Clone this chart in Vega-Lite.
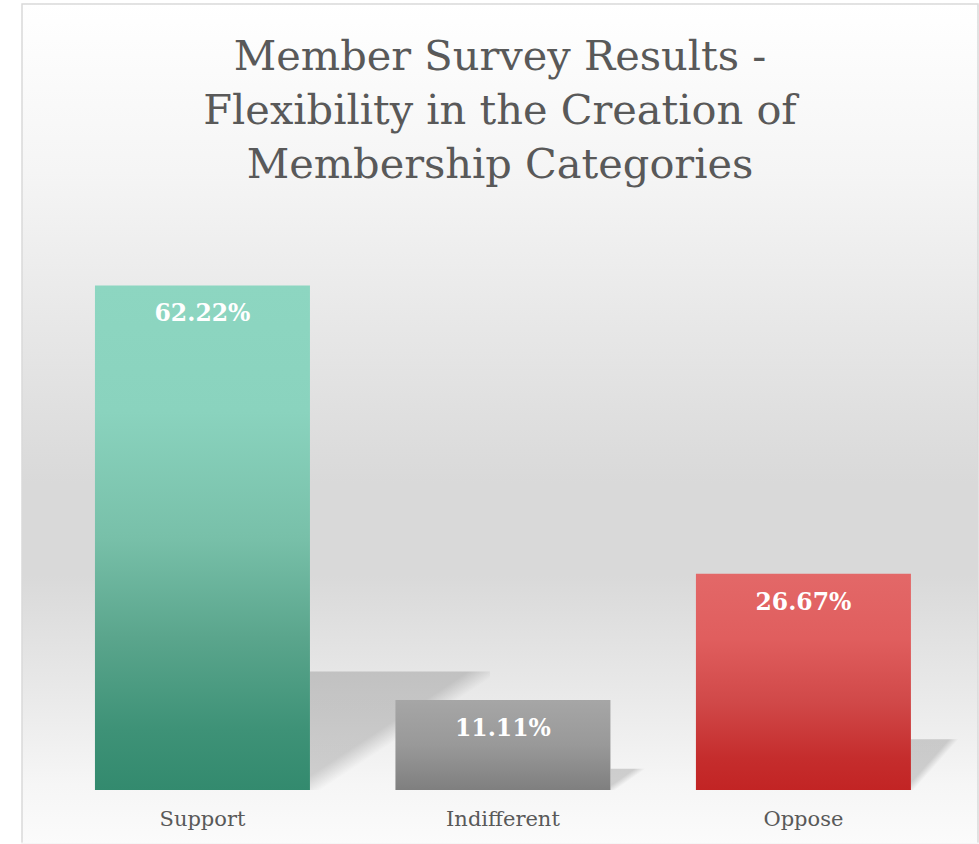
{
  "$schema": "https://vega.github.io/schema/vega-lite/v6.json",
  "width": 956,
  "height": 840,
  "autosize": {"type": "none"},
  "padding": {"left": 22, "top": 4, "right": 1, "bottom": 0},
  "background": "#ffffff",
  "title": {
    "text": ["Member Survey Results -", "Flexibility in the Creation of", "Membership Categories"],
    "anchor": "middle",
    "frame": "group",
    "orient": "top",
    "baseline": "top",
    "offset": -182,
    "font": "DejaVu Serif",
    "fontSize": 41.5,
    "fontWeight": "normal",
    "color": "#595959",
    "lineHeight": 54
  },
  "config": {
    "view": {
      "fill": {"gradient": "linear", "x1": 0, "y1": 0, "x2": 0, "y2": 1, "stops": [
        {"offset": 0, "color": "#ffffff"},
        {"offset": 0.2, "color": "#f5f5f5"},
        {"offset": 0.4, "color": "#e6e6e6"},
        {"offset": 0.57, "color": "#d9d9d9"},
        {"offset": 0.68, "color": "#d9d9d9"},
        {"offset": 0.82, "color": "#e9e9e9"},
        {"offset": 0.93, "color": "#f6f6f6"},
        {"offset": 1, "color": "#fbfbfb"}
      ]},
      "stroke": {"gradient": "linear", "x1": 0, "y1": 0, "x2": 0, "y2": 1, "stops": [
        {"offset": 0, "color": "#d9d9d9"},
        {"offset": 0.997, "color": "#d9d9d9"},
        {"offset": 1, "color": "#fbfbfb"}
      ]},
      "strokeWidth": 1.5
    }
  },
  "data": {"values": [
    {"category": "Support", "share": 0.6222},
    {"category": "Indifferent", "share": 0.1111},
    {"category": "Oppose", "share": 0.2667}
  ]},
  "encoding": {
    "x": {
      "field": "category",
      "type": "nominal",
      "sort": ["Support", "Indifferent", "Oppose"],
      "scale": {"paddingInner": 0.2845, "paddingOuter": 0.233, "align": 0.521, "round": false},
      "axis": {
        "title": null,
        "orient": "bottom",
        "offset": -54,
        "domain": false,
        "ticks": false,
        "grid": false,
        "labelAngle": 0,
        "labelFont": "DejaVu Serif",
        "labelFontSize": 21,
        "labelColor": "#595959",
        "labelPadding": 18
      }
    }
  },
  "layer": [
    {
      "mark": {"type": "bar", "width": 180, "xOffset": 197.5},
      "encoding": {
        "y": {"field": "share", "type": "quantitative", "scale": {"domain": [-0.2833, 4.124], "nice": false, "zero": false}, "axis": null},
        "y2": {"datum": 0},
        "fill": {
          "condition": [
            {"test": "datum.category === 'Support'", "value": {"gradient": "linear", "x1": 0, "y1": 0, "x2": 1, "y2": 1, "stops": [
              {"offset": 0, "color": "rgba(0,0,0,0.16)"},
              {"offset": 0.44, "color": "rgba(0,0,0,0.16)"},
              {"offset": 0.53, "color": "rgba(0,0,0,0)"},
              {"offset": 1, "color": "rgba(0,0,0,0)"}
            ]}},
            {"test": "datum.category === 'Indifferent'", "value": {"gradient": "linear", "x1": 0, "y1": 0, "x2": 1, "y2": 0.167, "stops": [
              {"offset": 0, "color": "rgba(0,0,0,0.16)"},
              {"offset": 0.13, "color": "rgba(0,0,0,0.16)"},
              {"offset": 0.19, "color": "rgba(0,0,0,0)"},
              {"offset": 1, "color": "rgba(0,0,0,0)"}
            ]}}
          ],
          "value": {"gradient": "linear", "x1": 0, "y1": 0, "x2": 1, "y2": 0.25, "stops": [
            {"offset": 0, "color": "rgba(0,0,0,0.16)"},
            {"offset": 0.2, "color": "rgba(0,0,0,0.16)"},
            {"offset": 0.25, "color": "rgba(0,0,0,0)"},
            {"offset": 1, "color": "rgba(0,0,0,0)"}
          ]}
        }
      }
    },
    {
      "mark": {"type": "bar"},
      "encoding": {
        "y": {"field": "share", "type": "quantitative", "scale": {"domain": [-0.06658, 0.96917], "nice": false, "zero": false}, "axis": null},
        "y2": {"datum": 0},
        "fill": {
          "condition": [
            {"test": "datum.category === 'Support'", "value": {"gradient": "linear", "x1": 0, "y1": 0, "x2": 0, "y2": 1, "stops": [
              {"offset": 0, "color": "#8dd6c1"},
              {"offset": 0.25, "color": "#8ad3be"},
              {"offset": 0.5, "color": "#78c0a9"},
              {"offset": 0.7, "color": "#5aa58c"},
              {"offset": 0.88, "color": "#3e9277"},
              {"offset": 1, "color": "#338a6e"}
            ]}},
            {"test": "datum.category === 'Indifferent'", "value": {"gradient": "linear", "x1": 0, "y1": 0, "x2": 0, "y2": 1, "stops": [
              {"offset": 0, "color": "#a6a6a6"},
              {"offset": 0.5, "color": "#999999"},
              {"offset": 1, "color": "#7f7f7f"}
            ]}}
          ],
          "value": {"gradient": "linear", "x1": 0, "y1": 0, "x2": 0, "y2": 1, "stops": [
            {"offset": 0, "color": "#e36868"},
            {"offset": 0.3, "color": "#e05e5e"},
            {"offset": 0.6, "color": "#d04848"},
            {"offset": 0.85, "color": "#c52d2d"},
            {"offset": 1, "color": "#c22424"}
          ]}
        }
      }
    },
    {
      "mark": {"type": "text", "baseline": "middle", "align": "center", "dy": 29, "font": "DejaVu Serif", "fontSize": 23.5, "fontWeight": "bold", "color": "#ffffff"},
      "encoding": {
        "y": {"field": "share", "type": "quantitative", "scale": {"domain": [-0.06658, 0.96917], "nice": false, "zero": false}, "axis": null},
        "text": {"field": "share", "type": "quantitative", "format": ".2%"}
      }
    }
  ],
  "resolve": {"scale": {"y": "independent"}}
}
